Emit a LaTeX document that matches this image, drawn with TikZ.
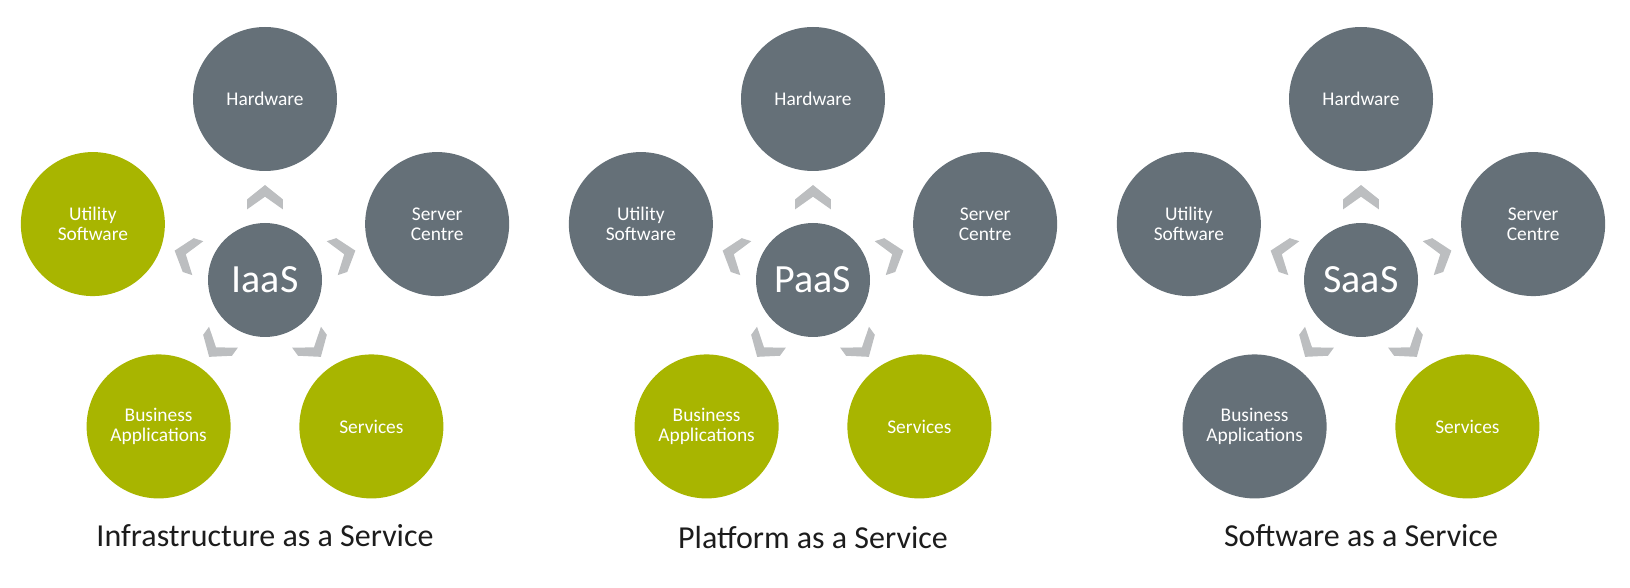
\documentclass[tikz,border=0pt]{standalone}
\usepackage{fontspec}
\setmainfont{Carlito}
\definecolor{slate}{HTML}{657078}
\definecolor{olive}{HTML}{A8B500}
\definecolor{chevgray}{HTML}{BCBEC0}
\definecolor{captext}{HTML}{1C1C1C}
\tikzset{
  bubble/.style={circle, minimum size=144pt, inner sep=0pt, text=white, align=center,
    font=\fontsize{19.4}{20}\selectfont},
  hub/.style={circle, fill=slate, minimum size=114pt, inner sep=0pt, text=white,
    font=\fontsize{40}{40}\selectfont},
  chevron/.style={fill=chevgray},
  caption/.style={anchor=base, text=captext, inner sep=0pt, font=\fontsize{32}{36}\selectfont}
}
\newcommand\drawpanel[7]{%
  \node[hub] (#1c) at (#2,307) {#3};
  \node[bubble, fill=slate] (#1hw) at ($(#1c)+(90:181)$) {Hardware};
  \node[bubble, fill=slate] (#1sc) at ($(#1c)+(18:181)$) {Server\\Centre};
  \node[bubble, fill=olive] (#1sv) at ($(#1c)+(-54:181)$) {Services};
  \node[bubble, fill=#5] (#1ba) at ($(#1c)+(234:181)$) {Business\\Applications};
  \node[bubble, fill=#4] (#1us) at ($(#1c)+(162:181)$) {Utility\\Software};
  \begin{scope}[shift={(#1c.center)}]
    \foreach \a in {0,72,144,216,288}
      \fill[chevron, rotate=\a] (0,95) -- (17.8,80.7) -- (17.8,70.7) -- (0,83.3)
        -- (-17.8,70.7) -- (-17.8,80.7) -- cycle;
  \end{scope}
  \node[caption] (#1cap) at (#2,#7) {#6};
}
\usetikzlibrary{calc}
\begin{document}
\begin{tikzpicture}[x=1pt,y=1pt]
\useasboundingbox (0,0) rectangle (1630,587);
\drawpanel{a}{265}{IaaS}{olive}{olive}{Infrastructure as a Service}{41}
\drawpanel{b}{813}{PaaS}{slate}{olive}{Platform as a Service}{38.7}
\drawpanel{c}{1361}{SaaS}{slate}{slate}{Software as a Service}{41}
\end{tikzpicture}
\end{document}
